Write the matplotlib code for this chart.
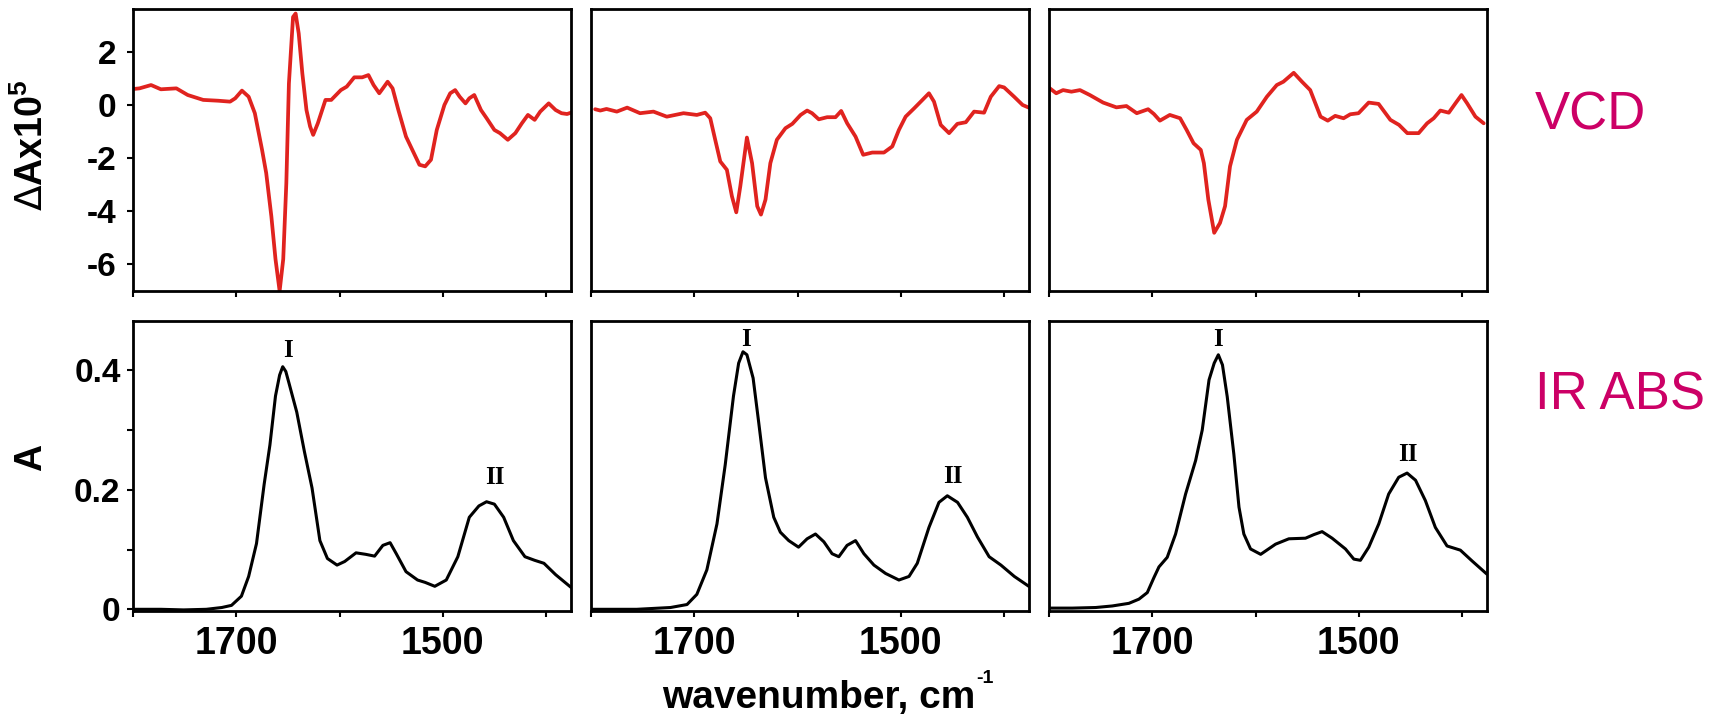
import matplotlib
matplotlib.use('Agg')
import matplotlib.pyplot as plt
from matplotlib.ticker import FixedLocator, NullFormatter, FixedFormatter

plt.rcParams['font.family'] = ['Liberation Sans', 'DejaVu Sans']
plt.rcParams['mathtext.fontset'] = 'custom'
plt.rcParams['mathtext.rm'] = 'Liberation Sans:bold'
plt.rcParams['mathtext.bf'] = 'Liberation Sans:bold'
plt.rcParams['mathtext.it'] = 'Liberation Sans:bold'
plt.rcParams['mathtext.sf'] = 'DejaVu Sans'

# ---------------- data ----------------
vcd1_x = [1800, 1793.7, 1782.5, 1773, 1758, 1747, 1732, 1717.5, 1706, 1701, 1694.5, 1688, 1682,
          1675, 1671, 1666, 1662, 1658, 1654.5, 1651.5, 1649, 1645, 1642.5, 1639.5, 1636, 1632,
          1628.5, 1625.5, 1621, 1613.6, 1608, 1598.7, 1593, 1585.7, 1578, 1572, 1567, 1561.5,
          1558, 1553.4, 1548.6, 1543, 1535.6, 1528, 1522.6, 1517, 1511.4, 1505.8, 1498.4,
          1492.8, 1488, 1483.6, 1478, 1474.3, 1469.5, 1463, 1457.5, 1450, 1444.6, 1437, 1429.7,
          1423.4, 1417.5, 1411, 1405.6, 1397.4, 1390.7, 1385, 1379.6, 1375.8]
vcd1_y = [0.6, 0.625, 0.75, 0.59, 0.625, 0.375, 0.19, 0.16, 0.125, 0.25, 0.54, 0.31, -0.31,
          -1.69, -2.56, -4.19, -5.8, -7.0, -5.8, -2.94, 0.81, 3.31, 3.44, 2.69, 1.19, -0.19,
          -0.81, -1.125, -0.69, 0.19, 0.19, 0.56, 0.69, 1.04, 1.04, 1.125, 0.75, 0.44,
          0.625, 0.875, 0.625, -0.19, -1.19, -1.81, -2.25, -2.31, -2.06, -0.94, 0.0,
          0.44, 0.56, 0.31, 0.06, 0.25, 0.375, -0.19, -0.5, -0.94, -1.06, -1.31, -1.06,
          -0.69, -0.375, -0.56, -0.25, 0.06, -0.19, -0.31, -0.34, -0.29]

vcd2_x = [1796, 1791, 1785, 1775, 1765, 1752.5, 1739.5, 1726.6, 1710.4, 1697.5, 1689.4, 1684.5,
          1679.7, 1674.8, 1668.4, 1663.5, 1659.3, 1655.4, 1649, 1644, 1639, 1635.4, 1631,
          1626.3, 1620, 1611.7, 1605, 1597, 1590.7, 1585.9, 1579.4, 1571.3, 1563.2, 1557.7,
          1551.9, 1543.8, 1536.4, 1527.6, 1516.3, 1508.2, 1501.8, 1495.3, 1487, 1479, 1472.7,
          1467.8, 1461.3, 1453.2, 1445.2, 1437, 1429, 1419.3, 1412.8, 1404.7, 1399.9, 1390.2,
          1382, 1376]
vcd2_y = [-0.16, -0.21, -0.15, -0.25, -0.1, -0.31, -0.25, -0.44, -0.31, -0.375, -0.29, -0.5,
          -1.31, -2.125, -2.44, -3.44, -4.04, -3.06, -1.225, -2.19, -3.81, -4.125, -3.56,
          -2.19, -1.31, -0.875, -0.71, -0.375, -0.21, -0.31, -0.54, -0.46, -0.46, -0.225,
          -0.69, -1.19, -1.875, -1.79, -1.79, -1.56, -0.94, -0.44, -0.125, 0.19, 0.44,
          0.125, -0.75, -1.06, -0.71, -0.65, -0.25, -0.29, 0.31, 0.71, 0.66, 0.31,
          0.0, -0.1]

vcd3_x = [1800, 1793, 1786.4, 1778.3, 1770, 1760.5, 1747.6, 1734.7, 1725, 1715, 1704, 1698.4,
          1692.6, 1683, 1673, 1666.7, 1660, 1653, 1650, 1645.7, 1640, 1634.4, 1629.5, 1624.7,
          1618, 1608.5, 1598.8, 1589, 1579.4, 1573, 1563, 1555, 1547, 1537, 1530, 1522.8,
          1514.7, 1508.2, 1500.2, 1490.4, 1480.8, 1469.4, 1461, 1453, 1442, 1433.8, 1427.4,
          1421, 1412.8, 1406.4, 1400.5, 1395, 1387, 1379]
vcd3_y = [0.65, 0.44, 0.56, 0.5, 0.56, 0.375, 0.09, -0.09, -0.04, -0.31, -0.16, -0.34,
          -0.59, -0.375, -0.5, -0.94, -1.44, -1.69, -2.19, -3.56, -4.81, -4.44, -3.81, -2.31,
          -1.31, -0.56, -0.25, 0.31, 0.75, 0.875, 1.21, 0.875, 0.56, -0.44, -0.59, -0.41,
          -0.5, -0.35, -0.31, 0.09, 0.04, -0.56, -0.75, -1.06, -1.06, -0.69, -0.5,
          -0.21, -0.29, 0.06, 0.375, 0.06, -0.44, -0.69]

ir1_x = [1800, 1773, 1751, 1729, 1714, 1704.6, 1695, 1688, 1680.4, 1673, 1667.4, 1662, 1658,
         1655, 1652, 1649, 1641.4, 1634, 1626.6, 1619, 1611.7, 1602.4, 1595, 1584, 1574.6, 1566,
         1558, 1551, 1545, 1535.6, 1524.4, 1517, 1507.7, 1496.6, 1485.4, 1474.3, 1465, 1457.6,
         1450, 1441, 1431.6, 1420.4, 1411, 1402, 1390.7, 1376]
ir1_y = [0.0, 0.0, -0.001, 0.0, 0.003, 0.0066, 0.022, 0.055, 0.11, 0.209, 0.275, 0.357, 0.392,
         0.406, 0.398, 0.379, 0.33, 0.264, 0.203, 0.115, 0.085, 0.074, 0.08, 0.0945, 0.092, 0.089,
         0.107, 0.1115, 0.093, 0.063, 0.049, 0.045, 0.0385, 0.049, 0.088, 0.154, 0.173, 0.18,
         0.176, 0.154, 0.115, 0.088, 0.082, 0.077, 0.058, 0.037]

ir2_x = [1800, 1755.7, 1723, 1707, 1697.5, 1687.8, 1678, 1670, 1662, 1657, 1652.8, 1649, 1643,
         1637.6, 1631, 1623, 1616.6, 1608.5, 1599, 1590.7, 1582.6, 1574.5, 1566.5, 1560, 1552,
         1543.8, 1535.7, 1526, 1514.7, 1501.8, 1492, 1484, 1472.7, 1463, 1454.9, 1445,
         1435.5, 1425.7, 1414.4, 1403, 1390, 1376]
ir2_y = [0.0, 0.0, 0.003, 0.008, 0.025, 0.066, 0.143, 0.242, 0.357, 0.412, 0.431, 0.426, 0.387,
         0.313, 0.22, 0.154, 0.129, 0.115, 0.104, 0.118, 0.126, 0.113, 0.093, 0.088, 0.107,
         0.115, 0.093, 0.074, 0.06, 0.049, 0.055, 0.077, 0.137, 0.179, 0.19, 0.179,
         0.154, 0.121, 0.088, 0.074, 0.055, 0.0385]

ir3_x = [1800, 1777.4, 1754.8, 1738.7, 1722.6, 1712.9, 1704.8, 1698.4, 1693.5, 1685.5, 1677.4,
         1667.7, 1658, 1651.6, 1645, 1640, 1636, 1632, 1627.4, 1621, 1616, 1611.3, 1604.8,
         1595, 1580.6, 1567.7, 1551.6, 1543.5, 1535.5, 1525.8, 1512.9, 1504.8, 1498.4,
         1490.3, 1480.6, 1471, 1461.3, 1453.2, 1445, 1435.5, 1425.8, 1414.5, 1401.6,
         1390.3, 1376]
ir3_y = [0.002, 0.002, 0.003, 0.0056, 0.01, 0.017, 0.028, 0.053, 0.071, 0.087, 0.126,
         0.193, 0.249, 0.3, 0.384, 0.412, 0.426, 0.409, 0.356, 0.26, 0.171, 0.126, 0.101,
         0.092, 0.109, 0.118, 0.119, 0.125, 0.13, 0.119, 0.101, 0.084, 0.082,
         0.104, 0.143, 0.193, 0.221, 0.228, 0.216, 0.182, 0.137, 0.106, 0.099,
         0.081, 0.059]

band_labels = ['I', 'II']
band_pos = [[(1650, 0.423), (1450, 0.210)],
            [(1650, 0.441), (1450, 0.212)],
            [(1636, 0.440), (1452, 0.249)]]

x_major = [1700, 1500]
x_minor = [1800, 1600, 1400]
x_all = [1800, 1700, 1600, 1500, 1400]
vcd_ticks = [2, 0, -2, -4, -6]
ir_ticks = [0, 0.2, 0.4]
ir_tick_labels = ['0', '0.2', '0.4']
ir_minor = [0.1, 0.3]

vcd_series = [(vcd1_x, vcd1_y), (vcd2_x, vcd2_y), (vcd3_x, vcd3_y)]
ir_series = [(ir1_x, ir1_y), (ir2_x, ir2_y), (ir3_x, ir3_y)]

# ---------------- layout ----------------
W, H = 1716, 716
fig = plt.figure(figsize=(W / 100, H / 100), dpi=100)

def add_ax(l, t, r, b):
    return fig.add_axes([l / W, 1 - b / H, (r - l) / W, (b - t) / H])

lefts = [133, 591, 1049]
width = 438
RED = '#e0231f'
MAG = '#cc0066'

for i in range(3):
    l = lefts[i]
    axt = add_ax(l, 8.5, l + width, 291)
    axb = add_ax(l, 320.7, l + width, 610.5)
    for ax in (axt, axb):
        ax.set_xlim(1800, 1375.8)
        for s in ax.spines.values():
            s.set_linewidth(2.0)
        ax.tick_params(which='both', direction='out', length=4, width=1.5,
                       labelsize=24, pad=6)

    xt, yt = vcd_series[i]
    axt.plot(xt, yt, color=RED, lw=2.7, solid_joinstyle='round', solid_capstyle='round')
    axt.set_ylim(-7.0, 3.63)
    axt.xaxis.set_major_locator(FixedLocator(x_all))
    axt.xaxis.set_major_formatter(NullFormatter())

    xb, yb = ir_series[i]
    axb.plot(xb, yb, color='black', lw=2.2, solid_joinstyle='round', solid_capstyle='round')
    axb.set_ylim(-0.002, 0.483)
    axb.xaxis.set_major_locator(FixedLocator(x_major))
    axb.xaxis.set_minor_locator(FixedLocator(x_minor))
    axb.xaxis.set_minor_formatter(NullFormatter())
    axb.set_xticklabels([str(v) for v in x_major], fontweight='bold', fontsize=27)
    axb.tick_params(axis='x', which='both', length=4, pad=7)

    for lab, (px, py) in zip(band_labels, band_pos[i]):
        axb.text(px, py, lab, family='Liberation Serif', fontweight='bold',
                 fontsize=18, ha='center', va='baseline')

    if i == 0:
        axt.yaxis.set_major_locator(FixedLocator(vcd_ticks))
        axt.set_yticklabels([str(v) for v in vcd_ticks], fontweight='bold', fontsize=24)
        axb.yaxis.set_major_locator(FixedLocator(ir_ticks))
        axb.yaxis.set_major_formatter(FixedFormatter(ir_tick_labels))
        axb.yaxis.set_minor_locator(FixedLocator(ir_minor))
        axb.yaxis.set_minor_formatter(NullFormatter())
        for t in axb.get_yticklabels():
            t.set_fontweight('bold')
            t.set_fontsize(24)
        axt.tick_params(axis='y', pad=8)
        axb.tick_params(axis='y', pad=5)
    else:
        axt.set_yticks([])
        axb.set_yticks([])

# axis titles
fig.text(32 / W, 1 - 145 / H, r'$\mathsf{\Delta}$Ax10$^{5}$', rotation=90, ha='center',
         va='center', fontsize=27, fontweight='bold')
fig.text(31 / W, 1 - 457 / H, 'A', rotation=90, ha='center', va='center',
         fontsize=27, fontweight='bold')
xl = fig.text(819 / W, 1 - 708 / H, 'wavenumber, cm', ha='center', va='baseline',
              fontsize=28, fontweight='bold')
renderer = fig.canvas.get_renderer()
bb = xl.get_window_extent(renderer)
fig.text((bb.x1 + 1) / W, 1 - 683 / H, '-1', ha='left', va='baseline',
         fontsize=14, fontweight='bold')

fig.text(1535 / W, 1 - 129 / H, 'VCD', color=MAG, fontsize=38, ha='left', va='baseline')
fig.text(1535 / W, 1 - 410 / H, 'IR ABS', color=MAG, fontsize=38, ha='left', va='baseline')

fig.savefig('out.png', dpi=100)
